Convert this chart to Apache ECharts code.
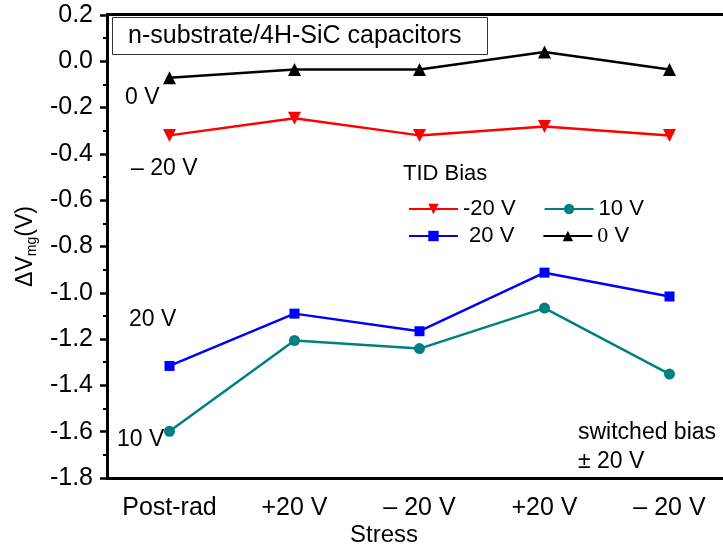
<!DOCTYPE html>
<html>
<head>
<meta charset="utf-8">
<script src="https://cdn.jsdelivr.net/npm/echarts@6/dist/echarts.min.js"></script>
<style>html,body{margin:0;padding:0;background:#fff;}#c{width:723px;height:552px;}</style>
</head>
<body>
<div id="c"></div>
<script>
const categories = ['Post-rad', '+20 V', '\u2013 20 V', '+20 V ', '\u2013 20 V '];
const seriesNames = ['-20 V', '10 V', ' 20 V', '0 V'];
const valsNeg20 = [-0.320, -0.246, -0.320, -0.282, -0.320];
const vals10 = [-1.598, -1.206, -1.241, -1.066, -1.351];
const vals20 = [-1.316, -1.090, -1.166, -0.913, -1.016];
const vals0 = [-0.071, -0.035, -0.035, 0.040, -0.035];
const yTicks = [0.2, 0.0, -0.2, -0.4, -0.6, -0.8, -1.0, -1.2, -1.4, -1.6, -1.8];

const FONT = '"Liberation Sans", Arial, sans-serif';
const chart = echarts.init(document.getElementById('c'), null, {renderer: 'canvas'});

function mkSeries(name, data, color, symbol, size, rotate) {
  return {
    name: name, type: 'line', data: data, xAxisIndex: 0, yAxisIndex: 0,
    symbol: symbol, symbolSize: size, symbolRotate: rotate || 0,
    lineStyle: {color: color, width: 2.5},
    itemStyle: {color: color},
    emphasis: {disabled: true},
    animation: false, z: 5
  };
}

const legendCommon = {
  left: 403, orient: 'horizontal', itemWidth: 49, itemHeight: 13, itemGap: 28,
  textStyle: {fontFamily: FONT, fontSize: 22, color: '#000', width: 54,
    rich: {s: {fontFamily: '"Liberation Serif", "Times New Roman", serif', fontSize: 22, color: '#000'}}},
  formatter: function (n) { return n === '0 V' ? '{s|0} V' : n; },
  selectedMode: false
};

chart.setOption({
  animation: false,
  grid: {left: 107, top: 15, width: 625, height: 463, containLabel: false, outerBoundsMode: 'none'},
  xAxis: [{
    type: 'category', data: categories, boundaryGap: true, position: 'bottom',
    axisLine: {onZero: false, lineStyle: {color: '#000', width: 3}},
    axisTick: {alignWithLabel: true, length: 8, lineStyle: {color: '#000', width: 2.5}},
    axisLabel: {fontFamily: FONT, fontSize: 25, color: '#000', margin: 18,
      formatter: function (v) { return v.trim(); }},
    splitLine: {show: false}
  }, {
    type: 'category', data: categories, boundaryGap: true, position: 'top', offset: -463,
    axisLine: {show: false, onZero: false},
    axisTick: {alignWithLabel: false, inside: true, length: 5, lineStyle: {color: '#000', width: 2}},
    axisLabel: {show: false}, splitLine: {show: false}
  }],
  yAxis: [{
    type: 'value', min: -1.8, max: 0.2, interval: 0.2,
    name: '{a|\u0394V}{b|mg}{a|(V)}', nameLocation: 'middle', nameGap: 68, nameRotate: 90,
    nameTextStyle: {rich: {
      a: {fontFamily: FONT, fontSize: 23, color: '#000'},
      b: {fontFamily: FONT, fontSize: 14, color: '#000', padding: [12, 0, 0, 0]}
    }},
    axisLine: {show: true, onZero: false, lineStyle: {color: '#000', width: 3}},
    axisTick: {show: true, length: 7, lineStyle: {color: '#000', width: 2.5}},
    minorTick: {show: true, splitNumber: 2, length: 4, lineStyle: {color: '#000', width: 2}},
    axisLabel: {fontFamily: FONT, fontSize: 25, color: '#000', margin: 14,
      formatter: function (v) { return (Math.abs(v) < 1e-9 ? 0 : v).toFixed(1); }},
    splitLine: {show: false}
  }],
  legend: [
    Object.assign({}, legendCommon, {top: 193, data: [seriesNames[0], seriesNames[1]]}),
    Object.assign({}, legendCommon, {top: 220, data: [seriesNames[2], seriesNames[3]]})
  ],
  series: [
    mkSeries(seriesNames[0], valsNeg20, '#ff0000', 'triangle', 13, 180),
    mkSeries(seriesNames[1], vals10, '#008080', 'circle', 11),
    mkSeries(seriesNames[2], vals20, '#0000ff', 'rect', 10),
    mkSeries(seriesNames[3], vals0, '#000000', 'triangle', 13)
  ],
  graphic: [
    {type: 'rect', left: 106, top: 13, z: 100,
      shape: {x: 0, y: 0, width: 620, height: 3}, style: {fill: '#000'}},
    {type: 'rect', left: 112, top: 17, shape: {width: 375, height: 37},
      style: {fill: '#fff', stroke: '#333', lineWidth: 1}, z: 10},
    {type: 'text', left: 128, top: 24, z: 11,
      style: {text: 'n-substrate/4H-SiC capacitors', fontFamily: FONT, fontSize: 25, fill: '#000'}},
    {type: 'text', left: 403, top: 163, z: 11,
      style: {text: 'TID Bias', fontFamily: FONT, fontSize: 22, fill: '#000'}},
    {type: 'text', left: 125, top: 86, z: 11,
      style: {text: '0 V', fontFamily: FONT, fontSize: 23, fill: '#000'}},
    {type: 'text', left: 131, top: 157, z: 11,
      style: {text: '\u2013 20 V', fontFamily: FONT, fontSize: 23, fill: '#000'}},
    {type: 'text', left: 129, top: 308, z: 11,
      style: {text: '20 V', fontFamily: FONT, fontSize: 23, fill: '#000'}},
    {type: 'text', left: 117, top: 428, z: 11,
      style: {text: '10 V', fontFamily: FONT, fontSize: 23, fill: '#000'}},
    {type: 'text', left: 578, top: 421, z: 11,
      style: {text: 'switched bias', fontFamily: FONT, fontSize: 23, fill: '#000'}},
    {type: 'text', left: 578, top: 450, z: 11,
      style: {text: '\u00b1 20 V', fontFamily: FONT, fontSize: 23, fill: '#000'}},
    {type: 'text', left: 350, top: 523, z: 11,
      style: {text: 'Stress', fontFamily: FONT, fontSize: 24, fill: '#000'}}
  ]
});
</script>
</body>
</html>
